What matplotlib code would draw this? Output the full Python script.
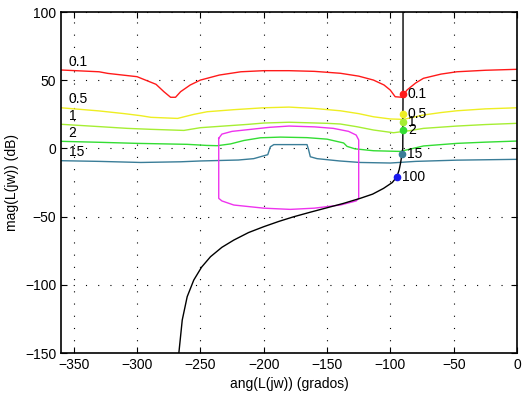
import numpy as np
import matplotlib.pyplot as plt

plt.rcParams['font.family'] = ['Liberation Sans', 'DejaVu Sans']
plt.rcParams['font.size'] = 10

# bounds (phase deg, magnitude dB) per frequency
b01_ph = [-360, -330, -323, -300, -285, -278.8, -273.5, -269.6, -265.6, -258, -250, -235, -218, -200, -180,
          -160, -139.5, -125, -113.3, -105, -100.1, -96.2, -90.9, -86.9, -80, -73.9, -60, -47.5, -25, 0]
b01_db = [57.5, 56.2, 55.0, 52.6, 47.0, 41.6, 37.5, 37.5, 41.6, 46.5, 50.1, 53.8, 56.2, 57.0, 57.0,
          56.5, 55.1, 53.0, 50.1, 46.5, 42.8, 37.9, 37.5, 42.8, 48.0, 51.4, 54.5, 56.2, 57.3, 58.0]

b05_ph = [-360, -330, -310, -297, -289, -268, -255, -244.6, -223.6, -200, -180, -160, -139.5, -125, -113.3,
          -100.1, -89.6, -73.9, -60, -47.5, -25, 0]
b05_db = [29.8, 27.5, 25.5, 24.0, 22.8, 22.0, 25.0, 26.9, 28.4, 29.8, 30.3, 29.3, 27.6, 25.5, 23.2,
          21.6, 21.3, 24.5, 26.3, 27.6, 29.0, 29.8]

b1_ph = [-360, -330, -307.6, -289, -263, -250, -230, -213, -200, -180, -150, -139.5, -126.4, -113.3, -97.5,
         -85, -73.9, -47.5, -25, 0]
b1_db = [17.7, 16.0, 14.7, 14.0, 13.2, 15.2, 16.5, 17.6, 18.6, 19.2, 18.4, 17.9, 15.9, 13.5, 11.5,
         13.0, 14.7, 16.4, 17.5, 18.4]

b2_ph = [-360, -330, -299.8, -260.4, -245, -236.7, -226.2, -215.7, -202.6, -186.8, -165.8, -150, -136.9, -134.2,
         -128, -113.3, -92.2, -73.9, -47.5, -25, 0]
b2_db = [5.2, 4.5, 3.7, 3.0, 2.2, 2.0, 3.3, 5.8, 7.8, 8.3, 7.9, 6.8, 4.0, 1.5,
         -0.3, -1.7, -2.2, 1.8, 3.7, 4.6, 5.4]

b15_ph = [-360, -330, -297, -265.6, -249.9, -220, -207.9, -202.6, -196.8, -194.7, -192, -165.8, -164.5, -163.2,
          -157.9, -140, -123.8, -100, -80, -47.5, 0]
b15_db = [-9.0, -9.5, -10.3, -9.8, -9.2, -8.5, -7.5, -6.1, -4.6, 1.2, 2.8, 2.8, -1.2, -6.1,
          -7.5, -9.2, -10.3, -10.7, -9.5, -8.6, -8.0]

# closed high-frequency contour
u_ph = [-235.5, -233, -225, -210, -195, -180, -160, -145, -133, -127, -125, -125, -127, -139.5, -160,
        -179, -200, -223.6, -233, -235.5, -235.5]
u_db = [7.4, 10.5, 12.5, 14.0, 15.5, 16.4, 15.8, 14.7, 12.5, 9.8, 6.2, -36.6, -38.5, -41.5, -43.8,
        -44.7, -43.8, -41.5, -38.5, -36.6, 7.4]

# nominal open loop L(jw)
L_ph = [-90, -90, -90.2, -90.9, -91.8, -93, -94.8, -98.5, -105.4, -114, -123.8, -137, -150, -163, -176.3,
        -188, -200, -212, -223.6, -233, -242, -249, -255.2, -260.4, -264.3, -267]
L_db = [100, 39.7, 0, -4.3, -10, -15.5, -20.7, -25, -29.3, -33.5, -36.6, -40.3, -43.5, -46.7, -50.1,
        -53.5, -57.4, -61.7, -67.2, -72.5, -79.4, -87, -96.5, -108.7, -125.8, -150.2]

freqs = ['0.1', '0.5', '1', '2', '15', '100']
pt_ph = [-90.2, -90.2, -90.2, -90.2, -90.9, -94.8]
pt_db = [39.7, 25.2, 19.4, 13.5, -4.3, -20.7]
colors = ['#ff1a1a', '#eeee22', '#a6ee33', '#33dd33', '#3a7d98', '#1a1aee']

bounds = [(b01_ph, b01_db), (b05_ph, b05_db), (b1_ph, b1_db), (b2_ph, b2_db), (b15_ph, b15_db)]

fig = plt.figure(figsize=(5.22, 3.97), dpi=100)
ax = fig.add_axes([0.1169, 0.1108, 0.8736, 0.8589])

for (ph, db), c, f in zip(bounds, colors, freqs):
    ax.plot(ph, db, color=c, lw=1.0)
    ax.text(ph[0] + 6, db[0] + 1.0, f, ha='left', va='bottom', fontsize=10)

ax.plot(u_ph, u_db, color='#ee33ee', lw=1.0)
ax.plot(L_ph, L_db, color='black', lw=1.0)

for ph, db, c, f in zip(pt_ph, pt_db, colors, freqs):
    ax.plot(ph, db, 'o', color=c, ms=4.5)
    ax.text(ph + 4, db, f, ha='left', va='center', fontsize=10)

ax.set_xlim(-360, 0)
ax.set_ylim(-150, 100)
ax.set_xticks(np.arange(-350, 1, 50))
ax.set_yticks(np.arange(-150, 101, 50))
ax.grid(True, color='black', lw=0.8, linestyle=(0, (1, 10)))
ax.tick_params(direction='in', top=True, right=True, length=4, width=0.8)
for s in ax.spines.values():
    s.set_linewidth(1.2)
ax.set_xlabel('ang(L(jw)) (grados)')
ax.set_ylabel('mag(L(jw)) (dB)')

fig.savefig('out.png', dpi=100)
